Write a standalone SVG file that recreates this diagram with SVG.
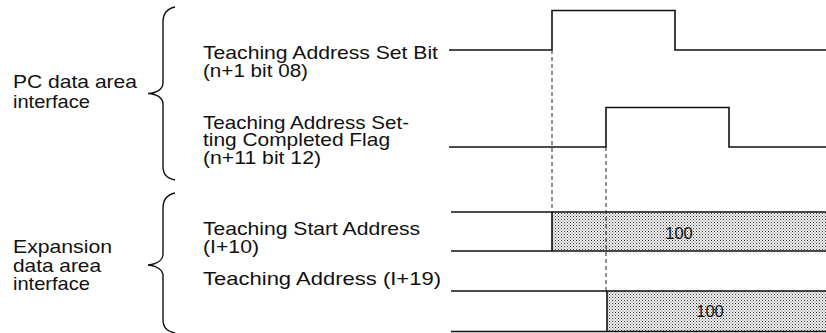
<svg xmlns="http://www.w3.org/2000/svg" width="826" height="333" viewBox="0 0 826 333">
<style>
text{font-family:"Liberation Sans",Arial,sans-serif;font-size:18.5px;fill:#111}
.val{font-size:16.5px;text-anchor:middle;fill:#111}
.wave{fill:none;stroke:#111;stroke-width:1.6}
.brace{fill:none;stroke:#111;stroke-width:1.4}
.dash{fill:none;stroke:#222;stroke-width:1;stroke-dasharray:4 3}
</style>
<defs>
<pattern id="dots" width="3" height="3" patternUnits="userSpaceOnUse">
<rect width="3" height="3" fill="#f4f4f4"/>
<rect x="0" y="0" width="1" height="1" fill="#333"/>
<rect x="1.5" y="1.5" width="1" height="1" fill="#555"/>
</pattern>
</defs>
<g id="pc-interface">
<text x="13" y="88" textLength="124" lengthAdjust="spacingAndGlyphs">PC data area</text>
<text x="13" y="108" textLength="77" lengthAdjust="spacingAndGlyphs">interface</text>
<path class="brace" d="M175,7 C166,9 163,14 163,22 V83 C163,89 157,93 148,93.5 C157,94 163,98 163,104 V166 C163,174 166,178 175,180"/>
</g>
<g id="expansion-interface">
<text x="13" y="253" textLength="99" lengthAdjust="spacingAndGlyphs">Expansion</text>
<text x="13" y="271.5" textLength="88" lengthAdjust="spacingAndGlyphs">data area</text>
<text x="13" y="290" textLength="77" lengthAdjust="spacingAndGlyphs">interface</text>
<path class="brace" d="M175,193 C166,195 163,200 163,208 V254 C163,260 157,264 148,265 C157,266 163,270 163,276 V319 C163,327 166,331 175,333"/>
</g>
<g id="set-bit">
<text x="203" y="58.5" textLength="235" lengthAdjust="spacingAndGlyphs">Teaching Address Set Bit</text>
<text x="203" y="77" textLength="105" lengthAdjust="spacingAndGlyphs">(n+1 bit 08)</text>
<path class="wave" d="M449,50 H552 V10.5 H675 V50 H826"/>
</g>
<g id="completed-flag">
<text x="203" y="128.5" textLength="206" lengthAdjust="spacingAndGlyphs">Teaching Address Set-</text>
<text x="203" y="146" textLength="187" lengthAdjust="spacingAndGlyphs">ting Completed Flag</text>
<text x="203" y="163.5" textLength="118" lengthAdjust="spacingAndGlyphs">(n+11 bit 12)</text>
<path class="wave" d="M449,147 H606 V107.5 H729 V147 H826"/>
</g>
<g id="start-address">
<text x="203" y="235" textLength="217" lengthAdjust="spacingAndGlyphs">Teaching Start Address</text>
<text x="203" y="253" textLength="56" lengthAdjust="spacingAndGlyphs">(I+10)</text>
<rect x="552" y="212" width="275" height="39" fill="url(#dots)"/>
<path class="wave" d="M451,212 H826 M451,251 H826 M552,212 V251"/>
<text class="val" x="679" y="238.5">100</text>
</g>
<g id="teaching-address">
<text x="203" y="285" textLength="238" lengthAdjust="spacingAndGlyphs">Teaching Address (I+19)</text>
<rect x="607" y="291" width="220" height="41" fill="url(#dots)"/>
<path class="wave" d="M451,291 H826 M451,331.5 H826 M607,291 V331.5"/>
<text class="val" x="710" y="317">100</text>
</g>
<g id="connectors">
<line class="dash" x1="552" y1="50" x2="552" y2="212"/>
<line class="dash" x1="606" y1="147" x2="606" y2="291"/>
</g>
</svg>
